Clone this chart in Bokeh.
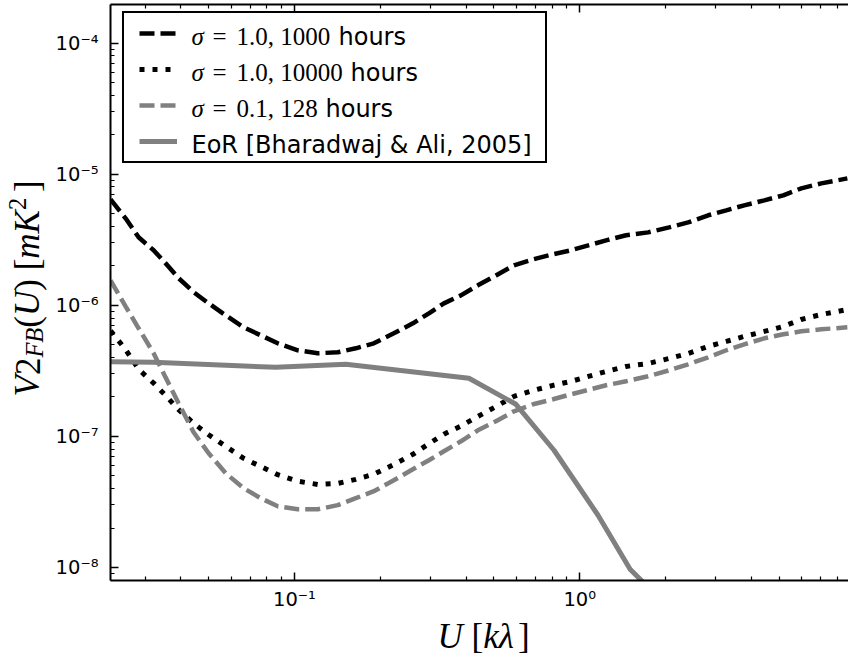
import json
from bokeh.plotting import figure
from bokeh.layouts import row, column
from bokeh.models import (Range1d, LogAxis, FixedTicker, CustomJSTickFormatter,
                          Label, Legend, LegendItem)
from bokeh.embed import file_html
from bokeh.resources import INLINE

# ---------------- data ----------------
u_model = [0.02267, 0.02559, 0.02843, 0.03209, 0.03535, 0.03926, 0.04432, 0.05004,
           0.05741, 0.06638, 0.07614, 0.08738, 0.1027, 0.1207, 0.1418, 0.1641,
           0.1898, 0.2230, 0.2601, 0.2960, 0.3341, 0.3833, 0.4395, 0.5084,
           0.5880, 0.6857, 0.8058, 0.9322, 1.2369, 1.4537, 1.7363, 2.0577,
           2.3988, 2.8201, 3.2621, 3.7715, 4.4350, 5.1689, 5.9770, 7.0260, 8.669]

v_sigma1_1000h = [6.43e-6, 4.61e-6, 3.30e-6, 2.63e-6, 2.09e-6, 1.61e-6, 1.26e-6, 1.035e-6,
                  8.39e-7, 6.79e-7, 5.91e-7, 5.13e-7, 4.54e-7, 4.31e-7, 4.38e-7, 4.70e-7,
                  5.13e-7, 6.12e-7, 7.29e-7, 8.69e-7, 1.035e-6, 1.19e-6, 1.42e-6, 1.69e-6,
                  2.02e-6, 2.24e-6, 2.45e-6, 2.63e-6, 3.13e-6, 3.42e-6, 3.60e-6, 3.93e-6,
                  4.29e-6, 4.86e-6, 5.30e-6, 5.79e-6, 6.32e-6, 6.90e-6, 7.80e-6, 8.51e-6, 9.29e-6]

v_sigma1_10000h = [6.40e-7, 4.60e-7, 3.25e-7, 2.55e-7, 2.05e-7, 1.60e-7, 1.26e-7, 1.03e-7,
                   8.40e-8, 6.80e-8, 5.90e-8, 5.10e-8, 4.55e-8, 4.30e-8, 4.38e-8, 4.70e-8,
                   5.15e-8, 6.10e-8, 7.30e-8, 8.80e-8, 1.04e-7, 1.20e-7, 1.42e-7, 1.69e-7,
                   2.02e-7, 2.24e-7, 2.45e-7, 2.63e-7, 3.13e-7, 3.42e-7, 3.60e-7, 3.93e-7,
                   4.29e-7, 4.86e-7, 5.30e-7, 5.79e-7, 6.32e-7, 6.90e-7, 7.80e-7, 8.51e-7, 9.29e-7]

v_sigma01_128h = [1.55e-6, 9.83e-7, 6.68e-7, 4.31e-7, 2.82e-7, 1.79e-7, 1.076e-7, 7.44e-8,
                  5.24e-8, 4.02e-8, 3.38e-8, 2.93e-8, 2.78e-8, 2.78e-8, 2.99e-8, 3.38e-8,
                  3.82e-8, 4.63e-8, 5.62e-8, 6.58e-8, 7.70e-8, 9.18e-8, 1.114e-7, 1.305e-7,
                  1.555e-7, 1.758e-7, 1.920e-7, 2.096e-7, 2.455e-7, 2.634e-7, 2.874e-7, 3.195e-7,
                  3.549e-7, 4.014e-7, 4.54e-7, 5.04e-7, 5.60e-7, 6.01e-7, 6.33e-7, 6.56e-7, 6.79e-7]

u_eor = [0.02267, 0.03209, 0.0860, 0.1514, 0.4089, 0.5976, 0.8125, 1.1592, 1.5014, 2.0089]
v_eor = [3.708e-7, 3.675e-7, 3.367e-7, 3.549e-7, 2.776e-7, 1.758e-7, 7.84e-8, 2.505e-8,
         9.70e-9, 5.16e-9]

legend_sigma = ["σ", "σ", "σ"]
legend_eq = "="
legend_num = ["1.0, 1000", "1.0, 10000", "0.1, 128"]
legend_unit = "hours"
legend_eor = "EoR [Bharadwaj & Ali, 2005]"

x_major = [0.01, 0.1, 1.0, 10.0]
y_major = [1e-9, 1e-8, 1e-7, 1e-6, 1e-5, 1e-4, 1e-3]
x_limits = (0.02266, 8.75)
y_limits = (7.96e-9, 1.97e-4)

# ---------------- layout (page px) ----------------
YLAB_W = 50
MAIN_W, MAIN_H = 848 - YLAB_W, 614
XLAB_H = 656 - MAIN_H
FRAME_LEFT_PAGE, FRAME_BOTTOM_PAGE = 110, 580
BASE_FIX = 0.35      # labels render their baseline ~0.35 em lower than asked
ROT_FIX = 33         # rotated labels render ~33 px higher than asked


def sx(page_x):
    return page_x - FRAME_LEFT_PAGE


def sy(page_y):
    return FRAME_BOTTOM_PAGE - page_y


p = figure(width=MAIN_W, height=MAIN_H, x_axis_type="log", y_axis_type="log",
           x_range=Range1d(*x_limits), y_range=Range1d(*y_limits),
           output_backend="svg", toolbar_location=None,
           min_border_left=FRAME_LEFT_PAGE - YLAB_W, min_border_right=0,
           min_border_top=4, min_border_bottom=MAIN_H - FRAME_BOTTOM_PAGE)
p.outline_line_color = None
p.grid.visible = False
p.background_fill_color = "white"
p.border_fill_color = "white"

x_minor = [m * 10.0 ** k for k in range(-2, 1) for m in range(2, 10)]
y_minor = [m * 10.0 ** k for k in range(-9, -3) for m in range(2, 10)]

sup = {"-": "\u207b", "0": "\u2070", "1": "\u00b9", "2": "\u00b2", "3": "\u00b3",
       "4": "\u2074", "5": "\u2075", "6": "\u2076", "7": "\u2077", "8": "\u2078", "9": "\u2079"}
fmt_code = ("const m = %s; const e = Math.round(Math.log10(tick)); let s = '';"
            "for (const c of String(e)) { s += m[c]; } return '10' + s;") % json.dumps(sup)
log_fmt = CustomJSTickFormatter(code=fmt_code)
blank_fmt = CustomJSTickFormatter(code="return '';")


def style_axis(ax):
    ax.axis_line_width = 2
    ax.axis_line_color = "black"
    ax.major_tick_in = 8
    ax.major_tick_out = 0
    ax.minor_tick_in = 4
    ax.minor_tick_out = 0
    ax.major_tick_line_width = 1.5
    ax.minor_tick_line_width = 1.2
    ax.major_tick_line_color = "black"
    ax.minor_tick_line_color = "black"
    ax.major_label_text_font = "DejaVu Sans"
    ax.major_label_text_font_size = "19.5px"
    ax.major_label_text_color = "black"


xax = p.xaxis[0]
xax.ticker = FixedTicker(ticks=x_major, minor_ticks=x_minor)
xax.formatter = log_fmt
style_axis(xax)
xax.major_label_standoff = 7

yax = p.yaxis[0]
yax.ticker = FixedTicker(ticks=y_major, minor_ticks=y_minor)
yax.formatter = log_fmt
style_axis(yax)
yax.major_label_standoff = 12

top = LogAxis(ticker=FixedTicker(ticks=x_major, minor_ticks=x_minor), formatter=blank_fmt)
style_axis(top)
top.major_label_standoff = 0
top.major_label_text_font_size = "1px"
p.add_layout(top, "above")

# ---------------- curves ----------------
GRAY = "#808080"
r1 = p.line(u_model, v_sigma1_1000h, line_color="black", line_width=4.5, line_dash="15 6")
r2 = p.line(u_model, v_sigma1_10000h, line_color="black", line_width=5, line_dash="5 8")
r3 = p.line(u_model, v_sigma01_128h, line_color=GRAY, line_width=4.5, line_dash="15 6")
r4 = p.line(u_eor, v_eor, line_color=GRAY, line_width=5)

# ---------------- legend (box + samples) ----------------
legend = Legend(items=[LegendItem(label=" ", renderers=[r]) for r in (r1, r2, r3, r4)],
                location=(sx(122), sy(163)), padding=15, spacing=26, margin=0,
                glyph_height=10, glyph_width=38, label_height=10, label_width=353,
                label_standoff=0, label_text_font_size="1px",
                border_line_color="black", border_line_width=2, border_line_alpha=1.0,
                background_fill_color="white", background_fill_alpha=0.0)
p.add_layout(legend)


def add_text(fig, text, x, y, size, font="Liberation Serif", style="normal", angle=0.0,
             align="left", baseline="alphabetic"):
    fig.add_layout(Label(x=x, y=y, x_units="screen", y_units="screen", text=text,
                         text_font=font, text_font_size="%gpx" % size, text_font_style=style,
                         angle=angle, text_align=align, text_baseline=baseline,
                         text_color="black", level="overlay"))


MS, SS = 25, 24           # legend math / sans font sizes
row_base = [45, 81, 117, 153]
hours_x = [338, 350, 325]
for i in range(3):
    yb = sy(row_base[i] - BASE_FIX * MS)
    add_text(p, legend_sigma[i], sx(191), yb, MS, style="italic")
    add_text(p, legend_eq, sx(212), yb, MS)
    add_text(p, legend_num[i], sx(236), yb, MS)
    add_text(p, legend_unit, sx(hours_x[i]), sy(row_base[i] - BASE_FIX * SS), SS,
             font="DejaVu Sans")
add_text(p, legend_eor, sx(191), sy(row_base[3] - BASE_FIX * SS), SS, font="DejaVu Sans")


def blank_panel(w, h):
    f = figure(width=w, height=h, x_axis_type=None, y_axis_type=None,
               output_backend="svg", toolbar_location=None, min_border=0)
    f.outline_line_color = None
    f.background_fill_color = "white"
    f.border_fill_color = "white"
    return f


# ---------------- axis titles (math-like pieces) ----------------
F, f = 35, 24.5
ylab = blank_panel(YLAB_W, MAIN_H)
ypieces = [("V", "italic", F, 0.611 * F, 0), ("2", "normal", F, 0.5 * F, 0),
           ("FB", "italic", f, 1.222 * f, 4), ("(", "normal", F, 0.333 * F, 0),
           ("U", "italic", F, 0.722 * F, 0), (")", "normal", F, 0.333 * F, 0),
           (None, None, F, 0.25 * F, 0),
           ("[", "normal", F, 0.333 * F, 0), ("mK", "italic", F, 1.389 * F, 0),
           ("2", "normal", f, 0.5 * f, -13), (None, None, F, 0.17 * F, 0),
           ("]", "normal", F, 0.333 * F, 0)]
pos = 397.0
for txt, st, size, w, shift in ypieces:
    if txt is not None:
        cx = 37.5 + shift - 0.3 * size
        cy = MAIN_H - (pos - w / 2 + ROT_FIX)
        add_text(ylab, txt, cx, cy, size, style=st, angle=1.5707963267948966,
                 align="center", baseline="middle")
    pos -= w

xlab = blank_panel(848, XLAB_H)
xpieces = [("U", "italic", F, 0.722 * F + 0.25 * F), ("[", "normal", F, 0.333 * F),
           ("kλ", "italic", F, 0.444 * F + 0.55 * F), ("]", "normal", F, 0.333 * F)]
pos = 437.0
for txt, st, size, w in xpieces:
    add_text(xlab, txt, pos, 656 - (648 - BASE_FIX * size), size, style=st)
    pos += w

layout = column(row(ylab, p, spacing=0), xlab, spacing=0)

with open("out.html", "w", encoding="utf-8") as fh:
    fh.write(file_html(layout, INLINE))
